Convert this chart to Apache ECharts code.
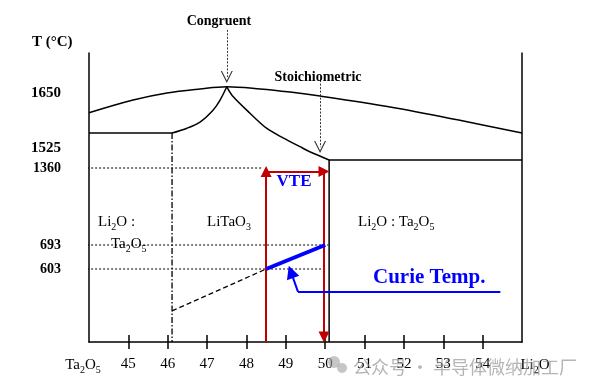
<!DOCTYPE html>
<html><head><meta charset="utf-8">
<script src="https://cdn.jsdelivr.net/npm/echarts@6/dist/echarts.min.js"></script>
<style>html,body{margin:0;padding:0;background:#fff}#c{width:590px;height:392px}</style>
</head><body><div id="c"></div>
<script>
// ---------- data ----------
const compTicks = [45, 46, 47, 48, 49, 50, 51, 52, 53, 54];   // mol% Li2O
const tempTicks = [603, 693, 1360, 1525, 1650];               // °C labels
// schematic (broken) temperature scale knots
const axisTemps = [300, 603, 693, 1360, 1525, 1650, 1740];
const axisPos   = [0, 73, 97, 174, 194, 249, 289];

const liquidusX = [44.0, 45.12, 45.98, 46.82, 47.5, 48.35, 49.11, 49.87, 51.65, 53.36, 55.0];
const liquidusT = [1605, 1634, 1650, 1659, 1664, 1659, 1652, 1643, 1618, 1589, 1559];

const solidusFlatX = [44.0, 46.11];
const solidusFlatT = [1559, 1559];
const solidusLeftX = [46.11, 46.49, 46.82, 47.15, 47.33, 47.5];
const solidusLeftT = [1559, 1570, 1584, 1611, 1634, 1664];
const solidusRightX = [47.5, 47.66, 48.09, 48.51, 48.93, 49.36, 49.61, 50.1];
const solidusRightT = [1664, 1642, 1604, 1570, 1548, 1528, 1494, 1426];

const stoichX = [55.0, 50.1, 50.1];
const stoichT = [1426, 1426, 300];
const boundaryX = [46.11, 46.11];
const boundaryT = [1559, 300];

const refLineT = [1360, 693, 603];
const refLineEndX = [48.42, 50.08, 50.0];
const refLineStartX = 43.85;

const curieX = [48.5, 50.0];
const curieT = [603, 693];
const curieExtX = [46.11, 48.5];
const curieExtT = [429, 603];

const vteX = [48.5, 49.97];
const vteTopT = 1330;
const bottomT = 300;
const vteArrowEndT = 321;

const curieLeaderX = [54.45, 49.31];
const curieLeaderT = [508, 508];
const curieArrowX = [49.31, 49.13];
const curieArrowT = [508, 591];

const congruentArrow = {x: 47.5, from: 1792, to: 1686};
const stoichArrow = {x: 49.87, from: 1679, to: 1527};

// ---------- scale helper ----------
function tPos(T) {
  let i = 0;
  while (i < axisTemps.length - 2 && T > axisTemps[i + 1]) i++;
  const t0 = axisTemps[i], t1 = axisTemps[i + 1], p0 = axisPos[i], p1 = axisPos[i + 1];
  return p0 + (T - t0) * (p1 - p0) / (t1 - t0);
}
const pts = (xs, ts) => xs.map((x, i) => [x, tPos(ts[i])]);

const SERIF = '"Liberation Serif","Times New Roman",serif';
const black = '#000';
const blue = '#0000ff';
const red = '#c00000';

function lineSeries(data, opt) {
  return Object.assign({
    type: 'line', data, symbol: 'none', clip: false, silent: true,
    lineStyle: {color: black, width: 1.5}, z: 3
  }, opt || {});
}

const series = [];
series.push(lineSeries(pts(liquidusX, liquidusT), {smooth: 0.35}));
series.push(lineSeries(pts(solidusFlatX, solidusFlatT)));
series.push(lineSeries(pts(solidusLeftX, solidusLeftT), {smooth: 0.3}));
series.push(lineSeries(pts(solidusRightX, solidusRightT), {smooth: 0.3}));
series.push(lineSeries(pts(stoichX, stoichT)));
series.push(lineSeries(pts(boundaryX, boundaryT), {lineStyle: {color: black, width: 1.3, type: [6, 2, 1.5, 2]}}));
refLineT.forEach((T, i) => {
  series.push(lineSeries([[refLineStartX, tPos(T)], [refLineEndX[i], tPos(T)]],
    {lineStyle: {color: black, width: 1, type: [2, 2]}, z: 2}));
});
series.push(lineSeries(pts(curieExtX, curieExtT), {lineStyle: {color: black, width: 1.2, type: [5, 3]}}));
series.push(lineSeries(pts(curieX, curieT), {lineStyle: {color: blue, width: 4}, z: 6}));
series.push(lineSeries(pts(curieLeaderX, curieLeaderT), {lineStyle: {color: blue, width: 2}, z: 6}));

series.push({
  type: 'lines', coordinateSystem: 'cartesian2d', clip: false, silent: true, z: 5,
  symbol: ['none', 'triangle'], symbolSize: [9, 11],
  lineStyle: {color: red, width: 2, opacity: 1},
  data: [
    {coords: [[vteX[0], tPos(bottomT)], [vteX[0], tPos(vteTopT)]]},
    {coords: [[vteX[0], tPos(vteTopT)], [vteX[1], tPos(vteTopT)]]},
    {coords: [[vteX[1], tPos(vteTopT)], [vteX[1], tPos(vteArrowEndT)]]}
  ]
});
series.push({
  type: 'lines', coordinateSystem: 'cartesian2d', clip: false, silent: true, z: 6,
  symbol: ['none', 'triangle'], symbolSize: [10, 13],
  lineStyle: {color: blue, width: 2, opacity: 1},
  data: [{coords: pts(curieArrowX, curieArrowT)}]
});
const vShape = 'path://M0,12 L5,0 L10,12 L9,12 L5,2.5 L1,12 Z';
series.push({
  type: 'lines', coordinateSystem: 'cartesian2d', clip: false, silent: true, z: 4,
  symbol: ['none', vShape], symbolSize: [11, 12],
  lineStyle: {color: '#333', width: 1, type: [2, 1.5], opacity: 1},
  data: [
    {coords: [[congruentArrow.x, tPos(congruentArrow.from)], [congruentArrow.x, tPos(congruentArrow.to)]]},
    {coords: [[stoichArrow.x, tPos(stoichArrow.from)], [stoichArrow.x, tPos(stoichArrow.to)]]}
  ]
});

// ---------- rich text helpers ----------
function richStyles(size, color, bold) {
  return {
    n: {fontSize: size, fontFamily: SERIF, color, fontWeight: bold ? 'bold' : 'normal', verticalAlign: 'top', lineHeight: size + 2},
    s: {fontSize: Math.round(size * 0.68), fontFamily: SERIF, color, fontWeight: bold ? 'bold' : 'normal', verticalAlign: 'top', lineHeight: Math.round(size * 0.68) + 1, padding: [Math.round(size * 0.5), 0, 0, 0]}
  };
}
function textEl(x, y, text, size, opts) {
  opts = opts || {};
  return {
    type: 'text', x, y, silent: true, z: 20,
    style: Object.assign({
      text, rich: richStyles(size, opts.color || black, opts.bold),
      font: (opts.bold ? 'bold ' : '') + size + 'px ' + SERIF,
      fill: opts.color || black,
      align: opts.align || 'left', verticalAlign: 'middle'
    }, opts.style || {})
  };
}

const graphic = [
  textEl(32, 42, 'T (°C)', 15, {bold: true}),
  textEl(219, 21, 'Congruent', 14, {bold: true, align: 'center'}),
  textEl(318, 77, 'Stoichiometric', 14, {bold: true, align: 'center'}),
  textEl(98, 223, '{n|Li}{s|2}{n|O :}', 15),
  textEl(111, 245, '{n|Ta}{s|2}{n|O}{s|5}', 15),
  textEl(207, 223, '{n|LiTaO}{s|3}', 15),
  textEl(358, 223, '{n|Li}{s|2}{n|O : Ta}{s|2}{n|O}{s|5}', 15),
  textEl(294, 182, 'VTE', 17, {bold: true, color: blue, align: 'center'}),
  textEl(373, 278, 'Curie Temp.', 21, {bold: true, color: blue}),
  textEl(83, 366, '{n|Ta}{s|2}{n|O}{s|5}', 15, {align: 'center'}),
  textEl(535, 366, '{n|Li}{s|2}{n|O}', 15, {align: 'center'}),
  // watermark
  {type: 'circle', shape: {cx: 334, cy: 362, r: 6}, style: {fill: 'rgba(160,160,160,0.6)'}, z: 30, silent: true},
  {type: 'circle', shape: {cx: 342, cy: 368, r: 5}, style: {fill: 'rgba(160,160,160,0.6)'}, z: 30, silent: true},
  {type: 'text', x: 353, y: 367, z: 30, silent: true,
   style: {text: '公众号 · 半导体微纳加工厂', font: '18px "Noto Sans CJK SC", sans-serif', fill: 'rgba(150,150,150,0.7)', verticalAlign: 'middle'}}
];

const tickPositions = tempTicks.map(tPos);
const tickBig = {1650: true, 1525: true};

const chart = echarts.init(document.getElementById('c'), null, {renderer: 'canvas'});
chart.setOption({
  animation: false,
  backgroundColor: '#fff',
  grid: {left: 89, right: 68, top: 53, bottom: 50, containLabel: false, outerBoundsMode: 'none'},
  xAxis: [
    {type: 'value', min: 44, max: 55, position: 'bottom',
     axisLine: {show: true, onZero: false, lineStyle: {color: black, width: 1.5}},
     axisTick: {show: true, inside: false, length: 7, customValues: compTicks, lineStyle: {color: black, width: 1.5}},
     axisLabel: {show: true, customValues: compTicks, margin: 15, fontFamily: SERIF, fontSize: 15, color: black},
     splitLine: {show: false}},
    {type: 'value', min: 44, max: 55, position: 'bottom',
     axisLine: {show: false},
     axisTick: {show: true, inside: true, length: 7, customValues: compTicks, lineStyle: {color: black, width: 1.5}},
     axisLabel: {show: false}, splitLine: {show: false}}
  ],
  yAxis: [
    {type: 'value', min: 0, max: 289, position: 'left',
     axisLine: {show: true, onZero: false, lineStyle: {color: black, width: 1.5}},
     axisTick: {show: false},
     axisLabel: {show: true, customValues: tickPositions, margin: 28,
       formatter: (v) => {
         const i = tickPositions.findIndex(p => Math.abs(p - v) < 0.01);
         const T = tempTicks[i];
         return tickBig[T] ? '{b|' + T + '}' : '{m|' + T + '}';
       },
       rich: {
         b: {fontFamily: SERIF, fontSize: 15, fontWeight: 'bold', color: black},
         m: {fontFamily: SERIF, fontSize: 14, fontWeight: 'bold', color: black}
       }},
     splitLine: {show: false}},
    {type: 'value', min: 0, max: 289, position: 'right',
     axisLine: {show: true, onZero: false, lineStyle: {color: black, width: 1.5}},
     axisTick: {show: false}, axisLabel: {show: false}, splitLine: {show: false}}
  ],
  series,
  graphic
});
</script></body></html>
